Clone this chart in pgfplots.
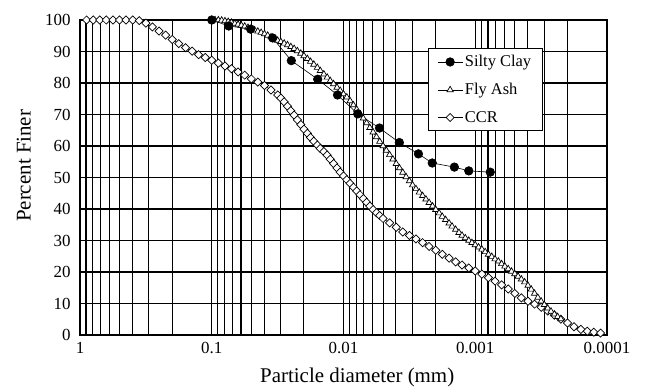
\documentclass[border=0pt]{standalone}
\usepackage{fontspec}
\setmainfont{Liberation Serif}
\usepackage{pgfplots}
\usepackage{pgfplotstable}
\pgfplotsset{compat=1.18}
\pgfplotstableread{
d P
8.91e-1 100
7.94e-1 100
7.08e-1 100
6.31e-1 100
5.62e-1 100
5.01e-1 100
4.47e-1 100
3.98e-1 100
3.55e-1 99.8
3.16e-1 99
2.82e-1 97.8
2.51e-1 96.5
2.24e-1 95.2
1.995e-1 93.8
1.78e-1 92.5
1.58e-1 91.2
1.41e-1 90.1
1.26e-1 89.0
1.12e-1 88.1
1.00e-1 87.2
8.91e-2 86.3
7.94e-2 85.4
7.08e-2 84.5
6.31e-2 83.5
5.62e-2 82.5
5.01e-2 81.3
4.47e-2 80.3
3.98e-2 79.2
3.55e-2 77.8
3.16e-2 76.2
2.99e-2 75.2
2.82e-2 74
2.66e-2 72.6
2.51e-2 71.2
2.37e-2 69.8
2.24e-2 68.3
2.11e-2 66.8
1.995e-2 65.3
1.88e-2 64
1.78e-2 62.7
1.68e-2 61.5
1.58e-2 60.3
1.50e-2 59.2
1.41e-2 58.2
1.33e-2 57.1
1.26e-2 55.8
1.19e-2 54.4
1.12e-2 53
1.06e-2 51.7
1.00e-2 50.5
9.44e-3 49.3
8.91e-3 48.1
8.41e-3 46.9
7.94e-3 45.7
7.50e-3 44.5
7.08e-3 43.3
6.68e-3 42.1
6.31e-3 40.9
5.96e-3 39.8
5.62e-3 38.8
5.31e-3 37.9
5.01e-3 37
4.47e-3 35.6
3.98e-3 34.2
3.55e-3 32.7
3.16e-3 31.6
2.82e-3 30.5
2.51e-3 29.3
2.24e-3 28.1
1.995e-3 26.9
1.78e-3 25.6
1.58e-3 24.4
1.41e-3 23.2
1.26e-3 22.2
1.12e-3 21.3
1.00e-3 20.3
8.91e-4 19.3
7.94e-4 18.2
7.08e-4 17.1
6.31e-4 15.9
5.62e-4 14.6
5.01e-4 13.2
4.47e-4 11.8
3.98e-4 10.7
3.55e-4 9.8
3.16e-4 8.8
2.82e-4 7.6
2.51e-4 6.3
2.24e-4 5
1.995e-4 3.8
1.78e-4 2.6
1.58e-4 1.8
1.41e-4 1.2
1.26e-4 0.9
1.12e-4 0.6
}\ccr
\pgfplotstableread{
d P
1e-1 100
9.44e-2 100
8.91e-2 100
8.41e-2 99.9
7.94e-2 99.7
7.50e-2 99.5
7.08e-2 99.2
6.68e-2 98.9
6.31e-2 98.6
5.96e-2 98.3
5.62e-2 98.0
5.31e-2 97.6
5.01e-2 97.2
4.73e-2 96.8
4.47e-2 96.4
4.22e-2 96.0
3.98e-2 95.6
3.76e-2 95.1
3.55e-2 94.6
3.35e-2 94.1
3.16e-2 93.5
2.99e-2 93.1
2.82e-2 92.6
2.66e-2 92.1
2.51e-2 91.5
2.37e-2 90.9
2.24e-2 90.2
2.11e-2 89.4
1.995e-2 88.6
1.88e-2 87.7
1.78e-2 86.8
1.68e-2 85.9
1.58e-2 84.9
1.50e-2 83.9
1.41e-2 82.8
1.33e-2 81.8
1.26e-2 80.7
1.19e-2 79.7
1.12e-2 78.6
1.06e-2 77.6
1e-2 76.5
9.44e-3 75.5
8.91e-3 74.3
8.41e-3 73.0
7.94e-3 71.6
7.50e-3 70.2
7.08e-3 68.8
6.68e-3 67.3
6.31e-3 65.8
5.96e-3 64.4
5.62e-3 62.9
5.31e-3 61.4
5.01e-3 60.0
4.73e-3 58.6
4.47e-3 57.2
4.22e-3 55.8
3.98e-3 54.4
3.76e-3 53.0
3.55e-3 51.6
3.35e-3 50.2
3.16e-3 48.9
2.99e-3 47.6
2.82e-3 46.4
2.66e-3 45.3
2.51e-3 44.2
2.37e-3 43.1
2.24e-3 42.0
2.11e-3 40.9
1.995e-3 39.8
1.88e-3 38.7
1.78e-3 37.6
1.68e-3 36.6
1.58e-3 35.5
1.50e-3 34.5
1.41e-3 33.5
1.33e-3 32.5
1.26e-3 31.6
1.19e-3 30.8
1.12e-3 30.0
1.06e-3 29.3
1e-3 28.6
9.44e-4 27.9
8.91e-4 27.2
8.41e-4 26.4
7.94e-4 25.6
7.50e-4 24.9
7.08e-4 24.1
6.68e-4 23.4
6.31e-4 22.6
5.96e-4 21.8
5.62e-4 21.0
5.31e-4 20.2
5.01e-4 19.4
4.73e-4 18.6
4.47e-4 17.7
4.22e-4 16.8
3.98e-4 15.7
3.76e-4 14.5
3.55e-4 13.2
3.35e-4 11.9
3.16e-4 10.7
2.99e-4 9.6
2.82e-4 8.5
2.66e-4 7.5
2.51e-4 6.6
2.37e-4 5.8
2.24e-4 5.1
}\flyash
\pgfplotstableread{
d P
1e-1 100
7.43e-2 98.1
5.07e-2 97.1
3.45e-2 94.3
2.49e-2 87.1
1.57e-2 81.2
1.11e-2 76.2
7.8e-3 70.2
5.33e-3 65.7
3.77e-3 61.1
2.70e-3 57.5
2.12e-3 54.6
1.44e-3 53.3
1.12e-3 52.1
7.7e-4 51.7
}\silty
\begin{document}
\begin{tikzpicture}
\path[use as bounding box] (-80bp,-55bp) rectangle (566bp,335bp);
\begin{axis}[
  at={(0,0)}, anchor=south west,
  scale only axis, width=527bp, height=315bp,
  xmode=log, x dir=reverse, xmin=1e-4, xmax=1,
  ymin=0, ymax=100, ytick={0,10,...,100},
  xtick={1e-4,1e-3,1e-2,1e-1,1},
  xticklabels={0.0001,0.001,0.01,0.1,1},
  grid=both,
  major grid style={black, line width=1.1bp},
  minor grid style={black, line width=1.1bp},
  major tick length=0pt, minor tick length=0pt,
  axis line style={black, line width=1bp},
  tick label style={font=\fontsize{17}{19}\selectfont},
  /pgf/number format/assume math mode=true,
  yticklabel style={xshift=-6bp},
  xticklabel style={yshift=-4bp},
  xlabel={Particle diameter (mm)},
  ylabel={Percent Finer},
  label style={font=\fontsize{21}{24}\selectfont},
  xlabel style={at={([yshift=-33bp]axis description cs:0.526,0)}, anchor=north, inner sep=0pt},
  ylabel style={at={([xshift=-49bp]axis description cs:0,0.537)}, anchor=south, inner sep=0pt},
  clip=false,
  reverse legend,
  legend cell align=left,
  legend style={at={(axis description cs:0.660,0.911)}, anchor=north west,
    draw=black, line width=1bp, fill=white, font=\fontsize{16.5}{18}\selectfont,
    row sep=11bp, inner xsep=9bp, inner ysep=5bp},
  legend image code/.code={\draw[mark repeat=2,mark phase=2] plot coordinates {(0bp,0bp)(12.5bp,0bp)(25bp,0bp)};},
]
\addplot[black, line width=0.5bp, mark=square*, mark size=2.9bp,
  mark options={fill=white, rotate=45, line width=0.7bp, solid}] table[x=d,y=P] {\ccr};
\addlegendentry{CCR}
\addplot[black, line width=0.5bp, mark=triangle*, mark size=3.6bp,
  mark options={fill=white, line width=0.7bp, solid}] table[x=d,y=P] {\flyash};
\addlegendentry{Fly Ash}
\addplot[black, line width=0.6bp, mark=*, mark size=4.3bp,
  mark options={fill=black, solid}] table[x=d,y=P] {\silty};
\addlegendentry{Silty Clay}
\end{axis}
\end{tikzpicture}
\end{document}
